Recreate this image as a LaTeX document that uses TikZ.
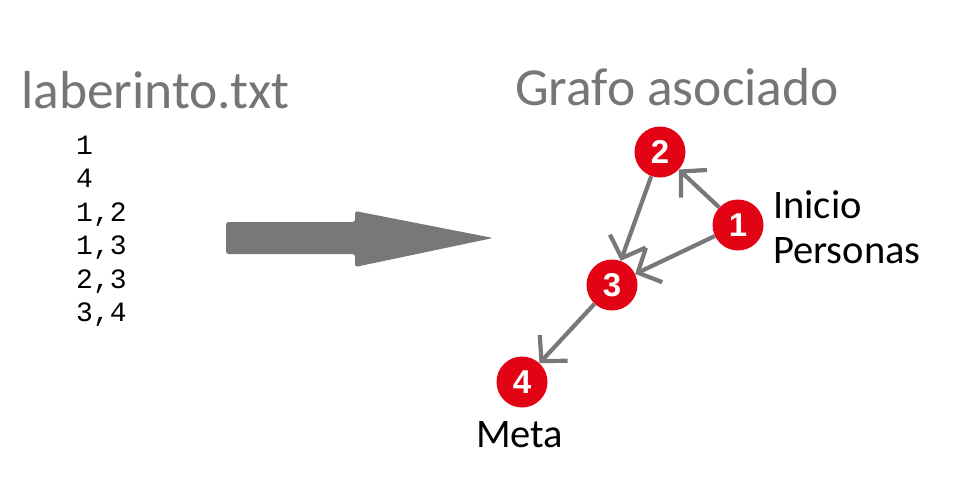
\documentclass[tikz,border=0pt]{standalone}
\usepackage{fontspec}
\setmainfont{Carlito}
\newfontfamily\monof{Liberation Mono}
\newfontfamily\numf{Liberation Sans}
\usetikzlibrary{arrows.meta}
\definecolor{nodered}{RGB}{226,4,20}
\definecolor{edgegray}{RGB}{120,120,120}
\definecolor{titlegray}{RGB}{118,118,118}
\tikzset{
  vertex/.style={circle,fill=nodered,draw=none,minimum size=51pt,inner sep=0pt,
    text=white,font=\numf\bfseries\fontsize{33}{33}\selectfont},
  edge/.style={draw=edgegray,line width=4.2pt,
    -{Straight Barb[length=18pt,width=38pt,line width=4.2pt]}},
  title/.style={anchor=base west,inner sep=0pt,text=titlegray,font=\fontsize{53.5}{53.5}\selectfont},
  fileline/.style={anchor=base west,inner sep=0pt,font=\monof\fontsize{28}{28}\selectfont},
  label/.style={anchor=base west,inner sep=0pt,font=\fontsize{40.5}{40.5}\selectfont},
}
\begin{document}
\begin{tikzpicture}[x=1pt,y=-1pt]
\useasboundingbox (0,0) rectangle (954,480);
\fill[white] (0,0) rectangle (954,480);
% titles
\node[title] (t1) at (21,108) {laberinto.txt};
\node[title] (t2) at (515,105) {Grafo asociado};
% file lines
\node[fileline] (l1) at (76,154) {1};
\node[fileline] (l2) at (76,187.5) {4};
\node[fileline] (l3) at (76,221) {1,2};
\node[fileline] (l4) at (76,254.5) {1,3};
\node[fileline] (l5) at (76,288) {2,3};
\node[fileline] (l6) at (76,321.5) {3,4};
% big arrow
\fill[edgegray,rounded corners=2.5pt] (226,222) -- (355,222) -- (355,211) -- (493,238)
  -- (355,267) -- (355,254) -- (226,254) -- cycle;
% graph
\node[vertex] (n1) at (738,225) {1};
\node[vertex] (n2) at (660,152) {2};
\node[vertex] (n3) at (612,285) {3};
\node[vertex] (n4) at (522,382) {4};
\draw[edge] (n1) -- (n2);
\draw[edge] (n1) -- (n3);
\draw[edge] (n2) -- (n3);
\draw[edge] (n3) -- (n4);
% labels
\node[label] (inicio) at (773,218) {Inicio};
\node[label] (personas) at (773,263) {Personas};
\node[label] (meta) at (476,447) {Meta};
\end{tikzpicture}
\end{document}
